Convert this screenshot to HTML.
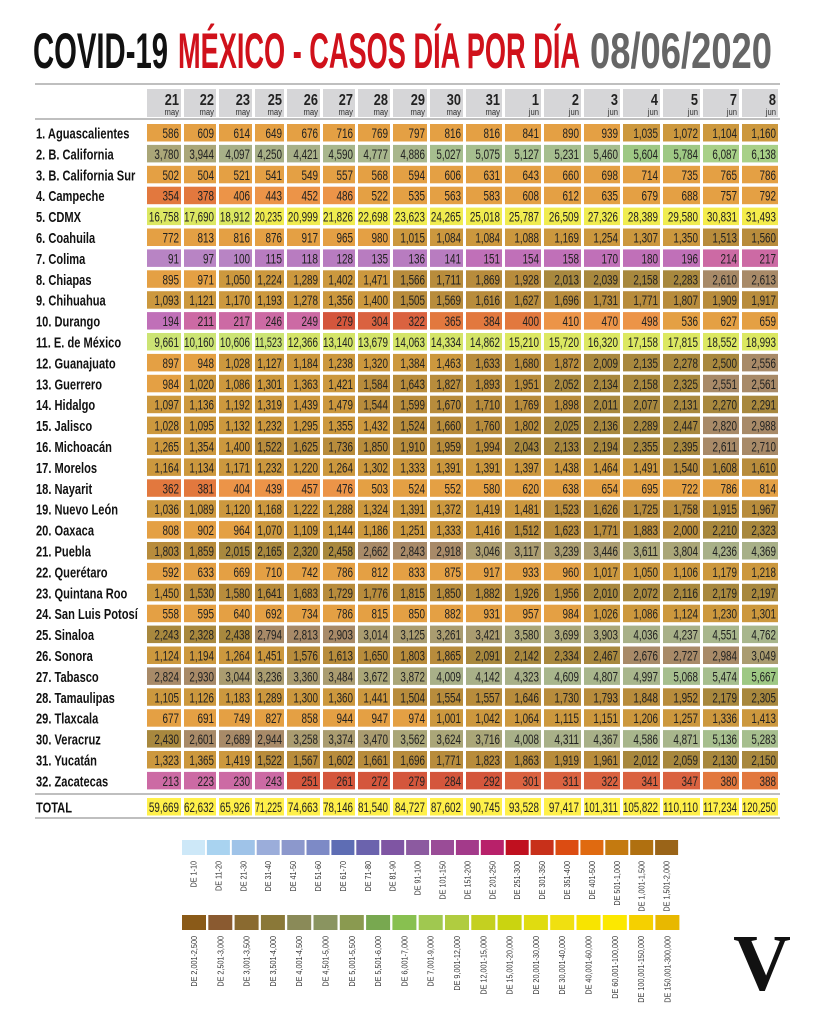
<!DOCTYPE html>
<html><head><meta charset="utf-8"><style>
html,body{margin:0;padding:0;background:#fff;}
svg{display:block;}
text{font-family:"Liberation Sans Narrow","Liberation Sans",sans-serif;}
</style></head><body>
<svg id="chart" width="818" height="1024" viewBox="0 0 818 1024" xmlns="http://www.w3.org/2000/svg">
<g font-weight="bold" font-size="50">
<text x="33" y="68" fill="#111" textLength="135" lengthAdjust="spacingAndGlyphs">COVID-19</text>
<text x="178" y="68" fill="#d0111b" textLength="402" lengthAdjust="spacingAndGlyphs">MÉXICO - CASOS DÍA POR DÍA</text>
<text x="590" y="68" fill="#666" textLength="182" lengthAdjust="spacingAndGlyphs">08/06/2020</text>
</g>
<line x1="35" y1="84" x2="780" y2="84" stroke="#999" stroke-width="1.2"/>
<line x1="35" y1="119" x2="780" y2="119" stroke="#999" stroke-width="1.2"/>
<line x1="35" y1="794" x2="780" y2="794" stroke="#999" stroke-width="1.2"/>
<line x1="35" y1="818" x2="780" y2="818" stroke="#999" stroke-width="1.2"/>
<g id="table"></g>
<g id="legend"></g>
<text x="762" y="990" text-anchor="middle" font-weight="bold" font-size="80" fill="#111" style="font-family:'Liberation Serif',serif">V</text>
</svg>
<script>
const days = ["21","22","23","25","26","27","28","29","30","31","1","2","3","4","5","7","8"];
const months = ["may","may","may","may","may","may","may","may","may","may","jun","jun","jun","jun","jun","jun","jun"];
const states = ["1. Aguascalientes","2. B. California","3. B. California Sur","4. Campeche","5. CDMX","6. Coahuila","7. Colima","8. Chiapas","9. Chihuahua","10. Durango","11. E. de México","12. Guanajuato","13. Guerrero","14. Hidalgo","15. Jalisco","16. Michoacán","17. Morelos","18. Nayarit","19. Nuevo León","20. Oaxaca","21. Puebla","22. Querétaro","23. Quintana Roo","24. San Luis Potosí","25. Sinaloa","26. Sonora","27. Tabasco","28. Tamaulipas","29. Tlaxcala","30. Veracruz","31. Yucatán","32. Zacatecas"];
const cases = [
[586,609,614,649,676,716,769,797,816,816,841,890,939,1035,1072,1104,1160],
[3780,3944,4097,4250,4421,4590,4777,4886,5027,5075,5127,5231,5460,5604,5784,6087,6138],
[502,504,521,541,549,557,568,594,606,631,643,660,698,714,735,765,786],
[354,378,406,443,452,486,522,535,563,583,608,612,635,679,688,757,792],
[16758,17690,18912,20235,20999,21826,22698,23623,24265,25018,25787,26509,27326,28389,29580,30831,31493],
[772,813,816,876,917,965,980,1015,1084,1084,1088,1169,1254,1307,1350,1513,1560],
[91,97,100,115,118,128,135,136,141,151,154,158,170,180,196,214,217],
[895,971,1050,1224,1289,1402,1471,1566,1711,1869,1928,2013,2039,2158,2283,2610,2613],
[1093,1121,1170,1193,1278,1356,1400,1505,1569,1616,1627,1696,1731,1771,1807,1909,1917],
[194,211,217,246,249,279,304,322,365,384,400,410,470,498,536,627,659],
[9661,10160,10606,11523,12366,13140,13679,14063,14334,14862,15210,15720,16320,17158,17815,18552,18993],
[897,948,1028,1127,1184,1238,1320,1384,1463,1633,1680,1872,2009,2135,2278,2500,2556],
[984,1020,1086,1301,1363,1421,1584,1643,1827,1893,1951,2052,2134,2158,2325,2551,2561],
[1097,1136,1192,1319,1439,1479,1544,1599,1670,1710,1769,1898,2011,2077,2131,2270,2291],
[1028,1095,1132,1232,1295,1355,1432,1524,1660,1760,1802,2025,2136,2289,2447,2820,2988],
[1265,1354,1400,1522,1625,1736,1850,1910,1959,1994,2043,2133,2194,2355,2395,2611,2710],
[1164,1134,1171,1232,1220,1264,1302,1333,1391,1391,1397,1438,1464,1491,1540,1608,1610],
[362,381,404,439,457,476,503,524,552,580,620,638,654,695,722,786,814],
[1036,1089,1120,1168,1222,1288,1324,1391,1372,1419,1481,1523,1626,1725,1758,1915,1967],
[808,902,964,1070,1109,1144,1186,1251,1333,1416,1512,1623,1771,1883,2000,2210,2323],
[1803,1859,2015,2165,2320,2458,2662,2843,2918,3046,3117,3239,3446,3611,3804,4236,4369],
[592,633,669,710,742,786,812,833,875,917,933,960,1017,1050,1106,1179,1218],
[1450,1530,1580,1641,1683,1729,1776,1815,1850,1882,1926,1956,2010,2072,2116,2179,2197],
[558,595,640,692,734,786,815,850,882,931,957,984,1026,1086,1124,1230,1301],
[2243,2328,2438,2794,2813,2903,3014,3125,3261,3421,3580,3699,3903,4036,4237,4551,4762],
[1124,1194,1264,1451,1576,1613,1650,1803,1865,2091,2142,2334,2467,2676,2727,2984,3049],
[2824,2930,3044,3236,3360,3484,3672,3872,4009,4142,4323,4609,4807,4997,5068,5474,5667],
[1105,1126,1183,1289,1300,1360,1441,1504,1554,1557,1646,1730,1793,1848,1952,2179,2305],
[677,691,749,827,858,944,947,974,1001,1042,1064,1115,1151,1206,1257,1336,1413],
[2430,2601,2689,2944,3258,3374,3470,3562,3624,3716,4008,4311,4367,4586,4871,5136,5283],
[1323,1365,1419,1522,1567,1602,1661,1696,1771,1823,1863,1919,1961,2012,2059,2130,2150],
[213,223,230,243,251,261,272,279,284,292,301,311,322,341,347,380,388]
];
const totals = [59669,62632,65926,71225,74663,78146,81540,84727,87602,90745,93528,97417,101311,105822,110110,117234,120250];
const binMax = [100,150,200,250,300,350,400,500,1000,1500,2000,2500,3000,3500,4000,4500,5000,5500,6000,7000,9000,12000,15000,20000,30000,40000,60000,100000,1e9];
const binColor = ["#b884c4","#b87cc0","#c070b8","#cc6aa4","#d4563c","#da6240","#e2783e","#ec9448","#e4a044","#cc983e","#b88c3c","#a8883e","#a88a68","#aa9c70","#aaa678","#a8b088","#a8b68c","#a6be8e","#9ec884","#a8d088","#bcd878","#cce474","#d4e468","#dce862","#f0ec50","#f4ec4c","#f8ea40","#fcea3c","#fce43c"];
const legendLabels1 = ["DE 1-10","DE 11-20","DE 21-30","DE 31-40","DE 41-50","DE 51-60","DE 61-70","DE 71-80","DE 81-90","DE 91-100","DE 101-150","DE 151-200","DE 201-250","DE 251-300","DE 301-350","DE 351-400","DE 401-500","DE 501-1,000","DE 1,001-1,500","DE 1,501-2,000"];
const legendColors1 = ["#cde8f8","#a9d3f0","#9fc3e8","#9badda","#8c98cc","#7d8ac6","#5e6db4","#6b63ad","#7f55a3","#8c5aa0","#9a4c97","#a33a8a","#b8216a","#c0101f","#c8301a","#dc4c12","#e06a10","#c47a10","#b07010","#9a6418"];
const legendLabels2 = ["DE 2,001-2,500","DE 2,501-3,000","DE 3,001-3,500","DE 3,501-4,000","DE 4,001-4,500","DE 4,501-5,000","DE 5,001-5,500","DE 5,501-6,000","DE 6,001-7,000","DE 7,001-9,000","DE 9,001-12,000","DE 12,001-15,000","DE 15,001-20,000","DE 20,001-30,000","DE 30,001-40,000","DE 40,001-60,000","DE 60,001-100,000","DE 100,001-150,000","DE 150,001-300,000"];
const legendColors2 = ["#8a5a18","#8a5a30","#8a6a30","#8a7838","#8a8a58","#8a9460","#8a9a50","#78a850","#88c050","#a0c850","#b0cc40","#c4d020","#cad410","#e0dc10","#f0e010","#f8e400","#fce800","#f5d000","#e8b800"];

const NS = "http://www.w3.org/2000/svg";
const colStart = [147,184,219,255,287,323,358,393,430,466,505,544,584,623,663,703,742,781];
function colX(j){return colStart[j];}
function colW(j){return colStart[j+1]-colStart[j]-3;}
function rowY(i){return 133+20.9*i;}
function colorFor(v){for(let k=0;k<binMax.length;k++){if(v<=binMax[k])return binColor[k];}return binColor[binColor.length-1];}
function fmt(v){return v.toLocaleString("en-US");}
function numLen(s){let d=0,c=0;for(const ch of s){if(ch===","||ch===".")c++;else d++;}return d*5.5+c*2.6;}
function mk(tag,attrs,parent){const e=document.createElementNS(NS,tag);for(const k in attrs)e.setAttribute(k,attrs[k]);parent.appendChild(e);return e;}
function squeeze(t,f){const w=t.getComputedTextLength();t.setAttribute('textLength',(w*f).toFixed(1));t.setAttribute('lengthAdjust','spacingAndGlyphs');}
const table=document.getElementById("table");

days.forEach((d,j)=>{
  const r=mk("rect",{x:colX(j),y:89,width:colW(j),height:28,fill:"#d6d6d8"},table);
  
  
  const t=mk("text",{x:colX(j)+colW(j)-2,y:105,"text-anchor":"end","font-size":"16","font-weight":"bold",fill:"#222"},table);
  t.textContent=d;
  
  
  squeeze(t,0.8);
  const m=mk("text",{x:colX(j)+colW(j)-2,y:115,"text-anchor":"end","font-size":"9",fill:"#333"},table);
  m.textContent=months[j];
  
  
  squeeze(m,0.85);
});

function drawRow(label,vals,cy,isTotal){
  const l=mk("text",{x:36,y:cy+5.5,"font-size":"15","font-weight":"bold",fill:"#111"},table);
  l.textContent=label;
  
  
  squeeze(l,0.74);
  vals.forEach((v,j)=>{
    const r=mk("rect",{x:colX(j),y:cy-9,width:colW(j),height:17.5,fill:isTotal?"#fff04a":colorFor(v)},table);
    
    
    const s=fmt(v);
    const t=mk("text",{x:colX(j)+colW(j)-2,y:cy+5,"text-anchor":"end","font-size":"14",fill:"#222",textLength:Math.min(numLen(s),colW(j)-2),lengthAdjust:"spacingAndGlyphs"},table);
    t.textContent=s;
    
    
  });
}
states.forEach((s,i)=>drawRow(s,cases[i],rowY(i),false));
drawRow("TOTAL",totals,807,true);

const legend=document.getElementById("legend");
function drawLegend(labels,colors,y0,pitch,w){
  labels.forEach((lab,k)=>{
    const x=182+k*pitch;
    const r=mk("rect",{x:x,y:y0,width:w,height:15,fill:colors[k]},legend);
    
    
    const cx=x+w/2+3;
    const t=mk("text",{x:cx,y:y0+21,"text-anchor":"end","font-size":"8.5",fill:"#333",transform:"rotate(-90 "+cx+" "+(y0+21)+")"},legend);
    t.textContent=lab;
    
    
    squeeze(t,0.85);
  });
}
drawLegend(legendLabels1,legendColors1,840,24.9,23);
drawLegend(legendLabels2,legendColors2,915,26.3,24);
</script>
</body></html>
